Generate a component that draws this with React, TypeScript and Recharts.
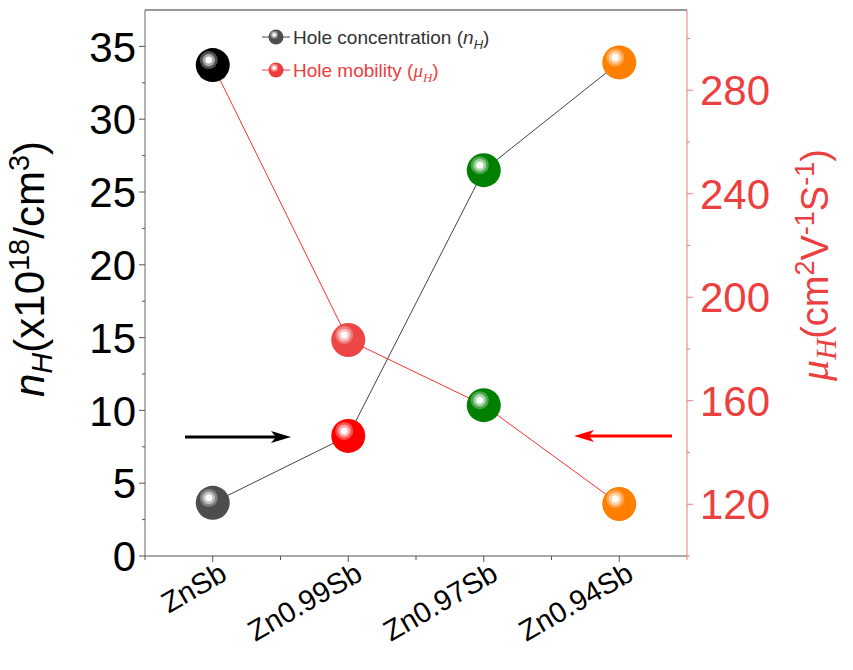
import React from "react";
import { ComposedChart, Line, XAxis, YAxis, ReferenceLine, Legend } from "recharts";

const categories = ["ZnSb", "Zn0.99Sb", "Zn0.97Sb", "Zn0.94Sb"];
const holeConcentration = [3.65, 8.25, 26.5, 33.9];
const holeMobility = [289.7, 183.5, 158.3, 120.1];
const concColors = ["#4d4d4d", "#ff0000", "#008000", "#ff8000"];
const mobColors = ["#000000", "#ec4646", "#008000", "#ff8000"];
const leftTicks = [0, 2.5, 5, 7.5, 10, 12.5, 15, 17.5, 20, 22.5, 25, 27.5, 30, 32.5, 35];
const rightTicks = [100, 120, 140, 160, 180, 200, 220, 240, 260, 280, 300];
const leftMajor = [0, 5, 10, 15, 20, 25, 30, 35];
const rightMajor = [120, 160, 200, 240, 280];

const W = 853;
const H = 670;
const LEFT_W = 145;
const RIGHT_W = 100;
const MARGIN = { top: 10, right: 66, bottom: 34, left: 0 };
const PLOT_W = W - LEFT_W - RIGHT_W - MARGIN.right;
const HALF_BAND = PLOT_W / categories.length / 2;
const FONT = "Arial, 'Liberation Sans', sans-serif";
const SERIF = "'Liberation Serif', 'DejaVu Serif', serif";
const RED = "#ec4040";
const RED_AXIS = "#f07a7a";

const data = categories.map((name, i) => ({
  name,
  nH: holeConcentration[i],
  mu: holeMobility[i],
}));

function Sphere({ cx, cy, r, color }: { cx: number; cy: number; r: number; color: string }) {
  const k = r / 17;
  const hx = cx - 4 * k;
  const hy = cy - 5 * k;
  return (
    <g>
      <circle cx={cx} cy={cy} r={r} fill={color} />
      <circle cx={hx} cy={hy} r={9 * k} fill="#fff" fillOpacity={0.3} />
      <circle cx={hx} cy={hy} r={6.3 * k} fill="#fff" fillOpacity={0.5} />
      <circle cx={hx} cy={hy} r={3.5 * k} fill="#fff" />
    </g>
  );
}

const dotFor = (colors: string[]) => (props: any) => {
  const { cx, cy, index } = props;
  return <Sphere key={index} cx={cx} cy={cy} r={17} color={colors[index]} />;
};

const LeftTick = (props: any) => {
  const { x, y, payload } = props;
  const ax = x + 9;
  const major = leftMajor.includes(payload.value);
  return (
    <g>
      <line x1={ax} x2={ax - (major ? 6 : 3)} y1={y} y2={y} stroke="#555" />
      {major && (
        <text x={x} y={y} dy="0.36em" textAnchor="end" fontSize={42} fontFamily={FONT} fill="#000">
          {payload.value}
        </text>
      )}
    </g>
  );
};

const RightTick = (props: any) => {
  const { x, y, payload } = props;
  const ax = x - 13;
  const major = rightMajor.includes(payload.value);
  return (
    <g>
      <line x1={ax} x2={ax + (major ? 6 : 3)} y1={y} y2={y} stroke={RED_AXIS} />
      {major && (
        <text x={x} y={y} dy="0.36em" textAnchor="start" fontSize={42} fontFamily={FONT} fill={RED}>
          {payload.value}
        </text>
      )}
    </g>
  );
};

const BottomTick = (props: any) => {
  const { x, y, payload, index } = props;
  const ay = y - 8;
  const tx = x + 16;
  const ty = ay + 23;
  return (
    <g>
      <line x1={x} x2={x} y1={ay} y2={ay + 6} stroke="#555" />
      <line x1={x - HALF_BAND} x2={x - HALF_BAND} y1={ay} y2={ay + 4} stroke="#555" />
      {index === categories.length - 1 && (
        <line x1={x + HALF_BAND} x2={x + HALF_BAND} y1={ay} y2={ay + 4} stroke={RED_AXIS} />
      )}
      <text
        x={tx}
        y={ty}
        transform={`rotate(-30 ${tx} ${ty})`}
        textAnchor="end"
        fontSize={29}
        fontFamily={FONT}
        fill="#000"
      >
        {payload.value}
      </text>
    </g>
  );
};

const LeftTitle = (props: any) => {
  const { viewBox } = props;
  const x = viewBox.x + 44;
  const y = viewBox.y + viewBox.height / 2 - 14;
  return (
    <text x={x} y={y} transform={`rotate(-90 ${x} ${y})`} textAnchor="middle" fontSize={42} fontFamily={FONT} fill="#000">
      <tspan fontStyle="italic">n</tspan>
      <tspan fontStyle="italic" fontSize={29} dy={8}>H</tspan>
      <tspan dy={-8}>(x10</tspan>
      <tspan fontSize={29} dy={-15}>18</tspan>
      <tspan dy={15}>/cm</tspan>
      <tspan fontSize={29} dy={-15}>3</tspan>
      <tspan dy={15}>)</tspan>
    </text>
  );
};

const RightTitle = (props: any) => {
  const { viewBox } = props;
  const x = viewBox.x + 141;
  const y = viewBox.y + viewBox.height / 2 - 18;
  return (
    <text x={x} y={y} transform={`rotate(-90 ${x} ${y})`} textAnchor="middle" fontSize={38} fontFamily={FONT} fill={RED}>
      <tspan fontStyle="italic" fontFamily={SERIF} fontSize={42}>μ</tspan>
      <tspan fontStyle="italic" fontFamily={SERIF} fontSize={29} dy={8}>H</tspan>
      <tspan dy={-8}>(cm</tspan>
      <tspan fontSize={27} dy={-14}>2</tspan>
      <tspan dy={14}>V</tspan>
      <tspan fontSize={27} dy={-14}>-1</tspan>
      <tspan dy={14}>S</tspan>
      <tspan fontSize={27} dy={-14}>-1</tspan>
      <tspan dy={14}>)</tspan>
    </text>
  );
};

const legendItems = [
  { label: "Hole concentration (", sym: "n", color: "#333", dot: "#4d4d4d", line: "#444", serif: false },
  { label: "Hole mobility (", sym: "μ", color: RED, dot: "#ee3a3a", line: "#f04040", serif: true },
];

const LegendContent = () => (
  <svg width={280} height={70}>
    {legendItems.map((it, i) => {
      const cy = 16 + i * 33;
      const fam = it.serif ? SERIF : FONT;
      return (
        <g key={it.label}>
          <line x1={4} x2={32} y1={cy} y2={cy} stroke={it.line} strokeWidth={1} />
          <Sphere cx={18} cy={cy} r={7.5} color={it.dot} />
          <text x={35} y={cy} dy="0.36em" fontSize={19} fontFamily={FONT} fill={it.color}>
            {it.label}
            <tspan fontStyle="italic" fontFamily={fam}>{it.sym}</tspan>
            <tspan fontStyle="italic" fontSize={13} dy={5} fontFamily={fam}>H</tspan>
            <tspan dy={-5}>)</tspan>
          </text>
        </g>
      );
    })}
  </svg>
);

function Arrows() {
  return (
    <svg width={W} height={H} style={{ position: "absolute", left: 0, top: 0, pointerEvents: "none" }}>
      <line x1={185} x2={278} y1={437} y2={437} stroke="#000" strokeWidth={3} />
      <polygon points="291,437 271,431 276,437 271,443" fill="#000" />
      <line x1={672} x2={586} y1={436} y2={436} stroke="#ff0000" strokeWidth={3} />
      <polygon points="574,436 594,430 589,436 594,442" fill="#ff0000" />
    </svg>
  );
}

export default function App() {
  return (
    <div style={{ position: "absolute", left: 0, top: 0, width: W, height: H, background: "#fff" }}>
      <ComposedChart width={W} height={H} data={data} margin={MARGIN}>
        <XAxis
          dataKey="name"
          height={80}
          interval={0}
          padding={{ left: HALF_BAND, right: HALF_BAND }}
          tickSize={6}
          tickMargin={2}
          tickLine={false}
          stroke="#555"
          tick={<BottomTick />}
        />
        <YAxis
          yAxisId="left"
          orientation="left"
          width={LEFT_W}
          domain={[0, 37.5]}
          ticks={leftTicks}
          interval={0}
          tickSize={6}
          tickMargin={3}
          tickLine={false}
          stroke="#666"
          tick={<LeftTick />}
          label={<LeftTitle />}
        />
        <YAxis
          yAxisId="right"
          orientation="right"
          width={RIGHT_W}
          domain={[100, 311]}
          ticks={rightTicks}
          interval={0}
          tickSize={6}
          tickMargin={7}
          tickLine={false}
          stroke={RED_AXIS}
          tick={<RightTick />}
          label={<RightTitle />}
        />
        <ReferenceLine yAxisId="left" y={37.5} stroke="#333" strokeWidth={1.2} />
        <Line
          yAxisId="left"
          dataKey="nH"
          stroke="#444"
          strokeWidth={1}
          isAnimationActive={false}
          dot={dotFor(concColors)}
          activeDot={false}
        />
        <Line
          yAxisId="right"
          dataKey="mu"
          stroke="#ff3030"
          strokeWidth={1}
          isAnimationActive={false}
          dot={dotFor(mobColors)}
          activeDot={false}
        />
        <Legend
          layout="vertical"
          align="center"
          verticalAlign="middle"
          content={<LegendContent />}
          wrapperStyle={{ position: "absolute", left: 258, top: 21, width: 280, height: 70 }}
        />
      </ComposedChart>
      <Arrows />
    </div>
  );
}
